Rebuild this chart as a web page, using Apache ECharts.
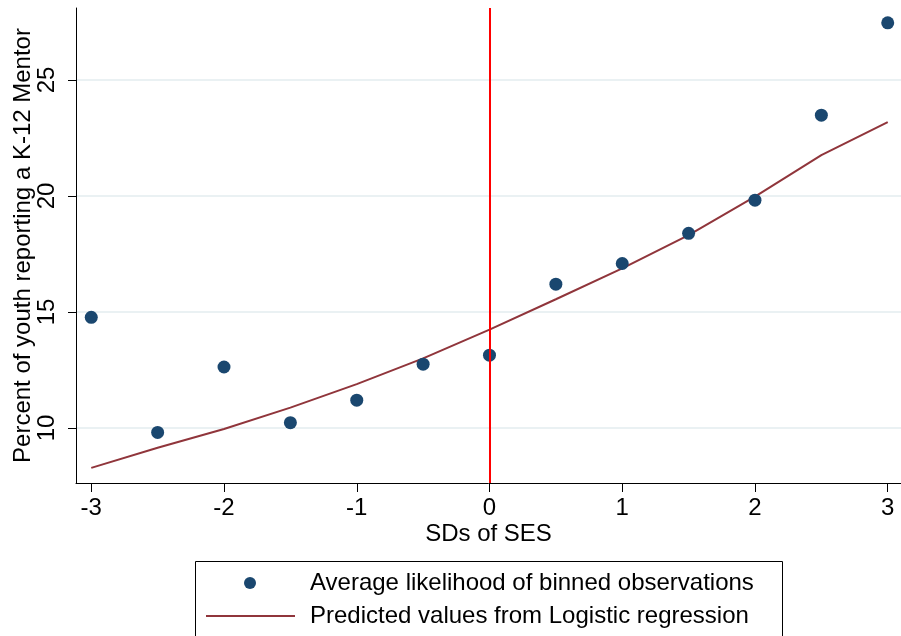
<!DOCTYPE html>
<html>
<head>
<meta charset="utf-8">
<script src="https://cdn.jsdelivr.net/npm/echarts@6/dist/echarts.min.js"></script>
<style>
html,body{margin:0;padding:0;background:#fff;}
#chart{width:901px;height:636px;}
</style>
</head>
<body>
<div id="chart"></div>
<script>
// Data
var sesBins = [-3, -2.5, -2, -1.5, -1, -0.5, 0, 0.5, 1, 1.5, 2, 2.5, 3];
var avgLikelihood = [14.77, 9.81, 12.63, 10.23, 11.2, 12.75, 13.14, 16.2, 17.09, 18.39, 19.82, 23.48, 27.46];
var predicted = [8.28, 9.15, 9.96, 10.88, 11.89, 13.0, 14.24, 15.55, 16.88, 18.31, 19.97, 21.76, 23.18];
var xTicks = [-3, -2, -1, 0, 1, 2, 3];
var yTicks = [10, 15, 20, 25];
var refLineX = 0;

var S1 = 'Average likelihood of binned observations';
var S2 = 'Predicted values from Logistic regression';
var FONT = "'Liberation Sans', Arial, Helvetica, sans-serif";
var FS = 24;

var chart = echarts.init(document.getElementById('chart'), null, {renderer: 'canvas'});

function pairs(xs, ys) { return xs.map(function (x, i) { return [x, ys[i]]; }); }

var option = {
  backgroundColor: '#ffffff',
  animation: false,
  textStyle: {fontFamily: FONT},
  grid: {left: 76, right: 0, top: 8, bottom: 153, containLabel: false, outerBoundsMode: 'none'},
  xAxis: {
    type: 'value',
    min: -3.115, max: 3.10,
    name: 'SDs of SES',
    nameLocation: 'middle',
    nameGap: 39,
    nameMoveOverlap: false,
    nameTextStyle: {fontSize: FS, color: '#000', fontFamily: FONT},
    axisLine: {show: true, onZero: false, lineStyle: {color: '#000', width: 1}},
    axisTick: {show: true, length: 9, customValues: xTicks, lineStyle: {color: '#000'}},
    axisLabel: {show: true, margin: 13, fontSize: FS, color: '#000', fontFamily: FONT, customValues: xTicks,
      formatter: function (v) { return String(v); }},
    splitLine: {show: false}
  },
  yAxis: {
    type: 'value',
    min: 7.63, max: 28.1,
    name: 'Percent of youth reporting a K-12 Mentor',
    nameLocation: 'middle',
    nameRotate: 90,
    nameGap: 41,
    nameMoveOverlap: false,
    nameTextStyle: {fontSize: FS, color: '#000', fontFamily: FONT},
    axisLine: {show: true, onZero: false, lineStyle: {color: '#000', width: 1}},
    axisTick: {show: true, length: 8, customValues: yTicks, lineStyle: {color: '#000'}},
    axisLabel: {show: true, rotate: 90, margin: 17, fontSize: FS, color: '#000', fontFamily: FONT, customValues: yTicks},
    splitLine: {show: true, lineStyle: {color: '#eaf1f3', width: 2}}
  },
  legend: [
    {
      data: [{name: S1, icon: 'circle'}],
      left: 244, top: 571, padding: 0,
      itemWidth: 12, itemHeight: 12,
      selectedMode: false,
      textStyle: {fontSize: FS, color: '#000', fontFamily: FONT, padding: [0, 0, 0, 49]}
    },
    {
      data: [{name: S2, icon: 'rect'}],
      left: 206, top: 604, padding: 0,
      itemWidth: 89, itemHeight: 2,
      selectedMode: false,
      textStyle: {fontSize: FS, color: '#000', fontFamily: FONT, padding: [0, 0, 0, 10]}
    }
  ],
  graphic: [
    {
      type: 'rect',
      shape: {x: 195.5, y: 561.5, width: 587, height: 100},
      style: {fill: 'none', stroke: '#000', lineWidth: 1},
      silent: true, z: 0
    }
  ],
  series: [
    {
      name: S2,
      type: 'line',
      data: pairs(sesBins, predicted),
      symbol: 'none',
      smooth: false,
      color: '#90353b',
      lineStyle: {color: '#90353b', width: 2},
      z: 2,
      markLine: {
        silent: true,
        symbol: ['none', 'none'],
        label: {show: false},
        lineStyle: {color: '#ff0000', width: 2, type: 'solid'},
        data: [{xAxis: refLineX}]
      }
    },
    {
      name: S1,
      type: 'scatter',
      data: pairs(sesBins, avgLikelihood),
      symbol: 'circle',
      symbolSize: 13,
      color: '#1a476f',
      itemStyle: {color: '#1a476f', opacity: 1},
      z: 3
    }
  ]
};
chart.setOption(option);
</script>
</body>
</html>
